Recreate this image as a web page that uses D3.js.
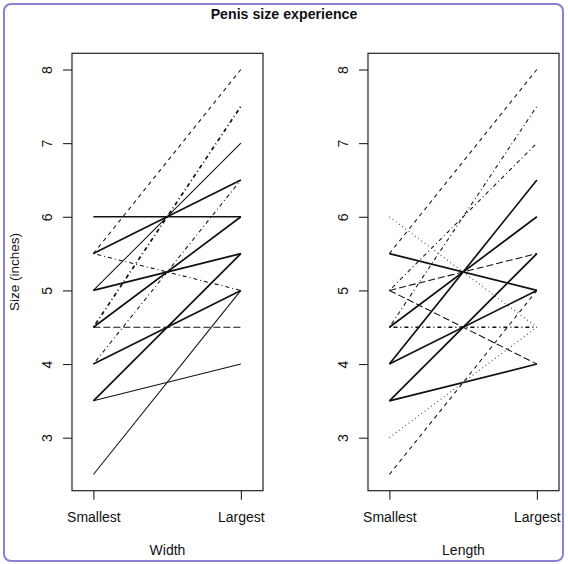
<!DOCTYPE html>
<html>
<head>
<meta charset="utf-8">
<script src="https://cdn.jsdelivr.net/npm/d3@7"></script>
<style>
  html, body { margin: 0; padding: 0; background: #fff; }
  svg { display: block; }
  text { font-family: "Liberation Sans", Arial, sans-serif; fill: #111; }
</style>
</head>
<body>
<svg id="chart" width="568" height="564"></svg>
<script>
// ---- data ----
const categories = ["Smallest", "Largest"];
const yTickValues = [3, 4, 5, 6, 7, 8];
const panelTitles = ["Width", "Length"];

// Width panel: one entry per line (smallest -> largest), count = overlapping respondents
const widthSmallest = [5.5, 4.5, 5.0, 5.5, 4.0, 6.0, 4.5, 5.0, 3.5, 5.5, 4.0, 2.5, 4.5, 3.5];
const widthLargest  = [8.0, 7.5, 7.0, 6.5, 6.5, 6.0, 6.0, 5.5, 5.5, 5.0, 5.0, 5.0, 4.5, 4.0];
const widthCount    = [1,   2,   1,   2,   1,   2,   2,   2,   2,   1,   2,   1,   1,   1];
const widthLty      = [2,   4,   1,   1,   4,   1,   1,   1,   1,   4,   1,   1,   5,   1];

// Length panel
const lengthSmallest = [5.5, 4.5, 5.0, 4.0, 4.5, 5.0, 5.5, 6.0, 4.5, 5.0, 4.0, 3.5, 3.5, 3.0, 2.5];
const lengthLargest  = [8.0, 7.5, 7.0, 6.5, 6.0, 5.5, 5.0, 4.5, 4.5, 4.0, 5.0, 5.5, 4.0, 4.5, 5.0];
const lengthCount    = [1,   1,   1,   2,   2,   1,   2,   1,   2,   1,   2,   2,   2,   1,   1];
const lengthLty      = [2,   4,   4,   1,   1,   5,   1,   3,   4,   5,   1,   1,   1,   3,   2];

// ---- drawing ----
const dashFor = {1: null, 2: "4,4", 3: "1,3", 4: "1,3,4,3", 5: "7,3", 6: "2,2,6,2"};

const svg = d3.select("#chart");

svg.append("rect")
  .attr("x", 4).attr("y", 4).attr("width", 559).attr("height", 557)
  .attr("rx", 7).attr("ry", 7)
  .attr("fill", "#fff").attr("stroke", "#8b80d2").attr("stroke-width", 2);

svg.append("text")
  .attr("x", 284).attr("y", 18.5)
  .attr("text-anchor", "middle")
  .style("font-weight", "bold").style("font-size", "14.2px")
  .text("Penis size experience");

svg.append("text")
  .attr("transform", "translate(18.5,272) rotate(-90)")
  .attr("text-anchor", "middle")
  .style("font-size", "13.5px")
  .text("Size (inches)");

const y = d3.scaleLinear().domain([2.28, 8.22]).range([490.7, 53.3]);

const panels = [
  {x0: 72, x1: 263, s: widthSmallest, l: widthLargest, n: widthCount, lty: widthLty, title: panelTitles[0]},
  {x0: 368, x1: 559, s: lengthSmallest, l: lengthLargest, n: lengthCount, lty: lengthLty, title: panelTitles[1]}
];

panels.forEach(p => {
  const xLin = d3.scaleLinear().domain([0.855, 2.15]).range([p.x0, p.x1]);
  const xPos = c => xLin(categories.indexOf(c) + 1);

  const g = svg.append("g");

  // lines
  const rows = p.s.map((v, i) => ({vals: [v, p.l[i]], n: p.n[i], lty: p.lty[i]}));
  const line = d3.line()
    .x((d, i) => xPos(categories[i]))
    .y(d => y(d));
  g.selectAll("path.series").data(rows).join("path")
    .attr("class", "series")
    .attr("d", d => line(d.vals))
    .attr("fill", "none")
    .attr("stroke", d => d.lty === 3 ? "#444" : "#111")
    .attr("stroke-width", d => d.n > 1 ? 1.7 : 1.05)
    .attr("stroke-dasharray", d => dashFor[d.lty]);

  // box
  g.append("rect")
    .attr("x", p.x0).attr("y", y(8.22))
    .attr("width", p.x1 - p.x0).attr("height", y(2.28) - y(8.22))
    .attr("fill", "none").attr("stroke", "#222").attr("stroke-width", 1.2);

  // y axis
  const ya = g.append("g").attr("transform", `translate(${p.x0},0)`)
    .call(d3.axisLeft(y).tickValues(yTickValues).tickSize(9).tickFormat(d3.format("d")));
  ya.select(".domain").remove();
  ya.selectAll(".tick line").attr("stroke", "#222").attr("stroke-width", 1.1);
  ya.selectAll(".tick text")
    .attr("x", 0).attr("y", -20).attr("dy", null)
    .attr("transform", "rotate(-90)")
    .attr("text-anchor", "middle")
    .style("font-size", "14px").style("font-family", "'Liberation Sans', Arial, sans-serif")
    .attr("fill", "#111");

  // x axis
  const xBand = d3.scalePoint().domain(categories).range([xPos(categories[0]), xPos(categories[1])]);
  const xa = g.append("g").attr("transform", `translate(0,${y(2.28)})`)
    .call(d3.axisBottom(xBand).tickSize(9));
  xa.select(".domain").remove();
  xa.selectAll(".tick line").attr("stroke", "#222").attr("stroke-width", 1.1);
  xa.selectAll(".tick text")
    .attr("y", 31).attr("dy", null)
    .style("font-size", "14px").style("font-family", "'Liberation Sans', Arial, sans-serif")
    .attr("fill", "#111");

  // panel x label
  g.append("text")
    .attr("x", (p.x0 + p.x1) / 2).attr("y", 555)
    .attr("text-anchor", "middle")
    .style("font-size", "14px")
    .text(p.title);
});
</script>
</body>
</html>
